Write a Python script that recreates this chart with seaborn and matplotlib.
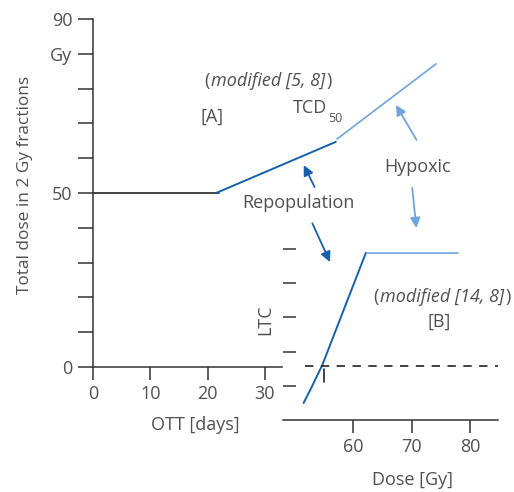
import matplotlib
matplotlib.use('Agg')
import matplotlib.pyplot as plt
import seaborn as sns
import pandas as pd

# Panel A: dose vs overall treatment time (schematic y scale in tick steps)
ott_flat = [0, 22.0]
dose_flat = [5.0, 5.0]
ott_repop = [21.5, 42.4]
dose_repop = [5.0, 6.47]
ott_hypox = [42.6, 59.9]
dose_hypox = [6.55, 8.71]
ytick_pos = list(range(11))
ytick_lab = ['0', '', '', '', '', '50', '', '', '', 'Gy', '90']
xtick_a = [0, 10, 20, 30]

# Panel B: local tumour control vs dose
dose_b = [51.6, 52.9, 54.8, 58.5, 62.2]
ltc_b = [9.9, 18.7, 32.2, 65.0, 97.7]
dose_plateau = [62.4, 77.9]
ltc_plateau = [97.7, 97.7]
ltc_half = 31.6
tcd50 = 55.1
xtick_b = [60, 70, 80]
ytick_b = [20, 40, 60, 80, 100]

dark_blue = '#1661aa'
light_blue = '#6fa5dc'
txt = '#505050'
axc = '#333333'

sns.set_style('ticks')
plt.rcParams['font.family'] = ['Open Sans', 'DejaVu Sans']
plt.rcParams['axes.edgecolor'] = axc
plt.rcParams['xtick.color'] = axc
plt.rcParams['ytick.color'] = axc

W, H = 514, 492
fig = plt.figure(figsize=(W / 100, H / 100), dpi=100)
ax = fig.add_axes([93 / W, 1 - 367 / H, 189 / W, 348 / H])
ax2 = fig.add_axes([283 / W, 1 - 420 / H, 215 / W, 171 / H])
for a in (ax, ax2):
    a.patch.set_visible(False)

# --- panel A
df_a = pd.DataFrame({'x': ott_flat, 'y': dose_flat})
sns.lineplot(data=df_a, x='x', y='y', ax=ax, color='#222222', lw=1.2)
df_r = pd.DataFrame({'x': ott_repop, 'y': dose_repop})
sns.lineplot(data=df_r, x='x', y='y', ax=ax, color=dark_blue, lw=1.4, clip_on=False)
df_h = pd.DataFrame({'x': ott_hypox, 'y': dose_hypox})
sns.lineplot(data=df_h, x='x', y='y', ax=ax, color=light_blue, lw=1.2, clip_on=False)

ax.set_xlim(0, 33)
ax.set_ylim(0, 10)
ax.set_yticks(ytick_pos)
ax.set_yticklabels(ytick_lab)
ax.set_xticks(xtick_a)
sns.despine(ax=ax)
ax.spines['left'].set_linewidth(1.1)
ax.spines['bottom'].set_linewidth(1.1)
ax.tick_params(axis='y', length=11, width=1.1, pad=4, labelsize=13, labelcolor=txt)
ax.tick_params(axis='x', length=9, width=1.1, pad=4, labelsize=13, labelcolor=txt)
ax.set_xlabel('OTT [days]', fontsize=13, color=txt)
ax.xaxis.set_label_coords((195 - 93) / 189, -(425 - 367) / 348)
ax.xaxis.label.set_va('center')
ax.set_ylabel('Total dose in 2 Gy fractions', fontsize=12.4, color=txt)
ax.yaxis.set_label_coords((25 - 93) / 189, (367 - 185) / 348)
ax.yaxis.label.set_va('center')

# --- panel B
df_b = pd.DataFrame({'x': dose_b, 'y': ltc_b})
sns.lineplot(data=df_b, x='x', y='y', ax=ax2, color=dark_blue, lw=1.4, clip_on=False)
df_p = pd.DataFrame({'x': dose_plateau, 'y': ltc_plateau})
sns.lineplot(data=df_p, x='x', y='y', ax=ax2, color=light_blue, lw=1.2, clip_on=False)
ax2.axhline(ltc_half, xmin=0.1, xmax=1.0, color='#222222', lw=1.2, ls=(0, (5, 4.5)))
ax2.plot([tcd50, tcd50], [ltc_half - 1.5, ltc_half - 9.5], color='#222222', lw=1.2)

ax2.set_xlim(48.1, 84.7)
ax2.set_ylim(0, 100)
ax2.set_xticks(xtick_b)
ax2.set_yticks(ytick_b)
ax2.set_yticklabels([])
sns.despine(ax=ax2)
ax2.spines['left'].set_visible(False)
ax2.spines['bottom'].set_linewidth(1.1)
ax2.tick_params(axis='y', direction='in', length=9, width=1.1)
ax2.tick_params(axis='x', length=9, width=1.1, pad=4, labelsize=13, labelcolor=txt)
ax2.set_xlabel('Dose [Gy]', fontsize=13, color=txt)
ax2.xaxis.set_label_coords((412 - 283) / 215, -(480 - 420) / 171)
ax2.xaxis.label.set_va('center')
ax2.set_ylabel('LTC', fontsize=13, color=txt)
ax2.yaxis.set_label_coords((265 - 283) / 215, (420 - 320) / 171)
ax2.yaxis.label.set_va('center')

# --- arrows
def arrow(a, start, end, color):
    a.annotate('', xy=end, xytext=start, xycoords='data', textcoords='data',
               arrowprops=dict(arrowstyle='-|>', color=color, lw=1.3,
                               mutation_scale=15, shrinkA=0, shrinkB=0),
               annotation_clip=False)

arrow(ax, (38.7, 5.17), (36.8, 5.8), dark_blue)
arrow(ax2, (53.1, 115.0), (56.1, 92.4), dark_blue)
arrow(ax, (56.5, 6.52), (52.9, 7.53), light_blue)
arrow(ax2, (70.1, 135.7), (70.8, 112.3), light_blue)

# --- annotations (figure pixel positions)
def label(x, y, s, **kw):
    opts = dict(ha='center', va='center', fontsize=13, color=txt)
    opts.update(kw)
    return fig.text(x / W, 1 - y / H, s, **opts)

renderer = fig.canvas.get_renderer()

def cited(x, y, s):
    # italic reference note wrapped in upright parentheses
    t = label(x, y, s, style='italic')
    bb = t.get_window_extent(renderer)
    label(bb.x0 - 1, y, '(', ha='right')
    label(bb.x1 + 1, y, ')', ha='left')

cited(268, 81, 'modified [5, 8]')
label(212, 117, '[A]')
label(327, 108, 'TCD', ha='right')
label(328, 118, '50', ha='left', fontsize=9)
label(298, 203, 'Repopulation')
label(418, 167, 'Hypoxic')
cited(442, 297, 'modified [14, 8]')
label(439, 322, '[B]')

fig.savefig('out.png', dpi=100)
